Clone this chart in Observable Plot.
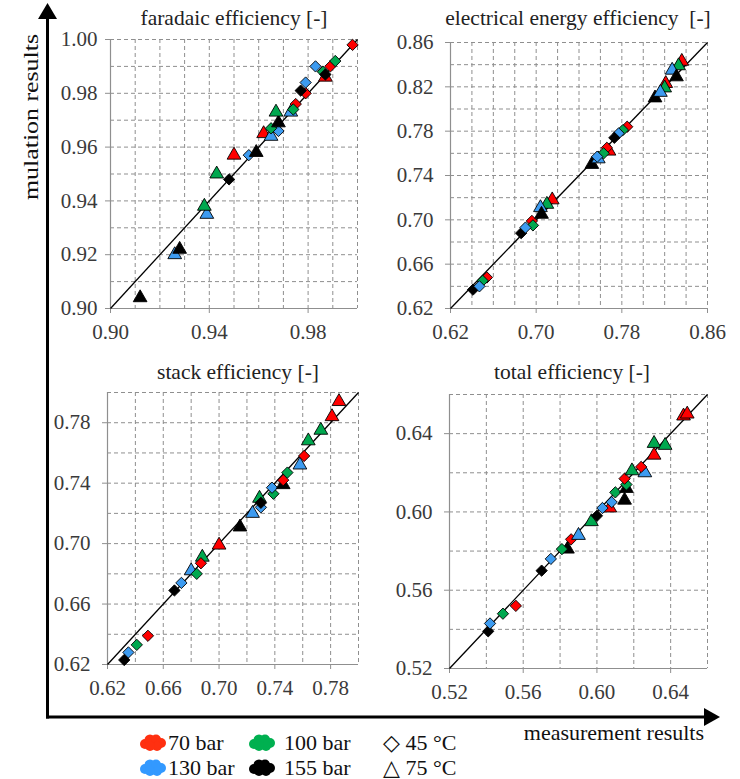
<!DOCTYPE html>
<html>
<head>
<meta charset="utf-8">
<script src="https://cdn.jsdelivr.net/npm/d3@7"></script>
<script src="https://cdn.jsdelivr.net/npm/@observablehq/plot@0.6"></script>
<style>
  html, body { margin: 0; padding: 0; background: #fff; }
  #wrap { position: relative; width: 740px; height: 779px; overflow: hidden; background: #fff; }
  #wrap > svg { position: absolute; }
  .panel { position: absolute; }
  #wrap text { font-family: "Liberation Serif", "DejaVu Serif", "Tinos", serif !important; }
</style>
</head>
<body>
<div id="wrap"></div>
<script>
// ---------- data: [measured, simulated, pressure (bar), temperature (°C)] ----------
const pressureLevels = [70, 100, 130, 155];
const pressureLabels = ["70 bar", "100 bar", "130 bar", "155 bar"];
const pressureColors = ["#ff0000", "#00a84f", "#3d9bf0", "#000000"];
const legendColors = ["#ff3010", "#00b050", "#3399ff", "#000000"];
const temperatureLevels = [45, 75];
const temperatureLabels = ["◇ 45 °C", "△ 75 °C"];

const faradaic = [
  [0.912, 0.904, 155, 75], [0.926, 0.920, 130, 75], [0.928, 0.922, 155, 75],
  [0.939, 0.935, 130, 75], [0.938, 0.938, 100, 75], [0.943, 0.950, 100, 75],
  [0.948, 0.948, 155, 45], [0.950, 0.957, 70, 75], [0.956, 0.957, 130, 45],
  [0.959, 0.958, 155, 75], [0.962, 0.965, 70, 75], [0.965, 0.964, 130, 75],
  [0.968, 0.966, 130, 45], [0.965, 0.967, 100, 45], [0.968, 0.969, 155, 75],
  [0.967, 0.973, 100, 75], [0.973, 0.973, 130, 75], [0.975, 0.976, 70, 45],
  [0.974, 0.974, 100, 45], [0.979, 0.980, 70, 45], [0.977, 0.981, 155, 45],
  [0.979, 0.984, 130, 45], [0.987, 0.986, 70, 75], [0.986, 0.988, 100, 45],
  [0.987, 0.987, 155, 45], [0.983, 0.990, 130, 45], [0.989, 0.990, 70, 45],
  [0.991, 0.992, 100, 45], [0.998, 0.998, 70, 45]
];
const electrical = [
  [0.654, 0.648, 70, 45], [0.650, 0.645, 100, 45], [0.641, 0.637, 155, 45], [0.647, 0.640, 130, 45],
  [0.696, 0.699, 70, 45], [0.697, 0.695, 100, 45], [0.686, 0.688, 155, 45], [0.690, 0.693, 130, 45],
  [0.715, 0.718, 70, 75], [0.710, 0.714, 100, 75], [0.704, 0.711, 130, 75], [0.705, 0.705, 155, 75],
  [0.752, 0.750, 155, 75], [0.758, 0.755, 130, 75], [0.768, 0.762, 70, 75], [0.766, 0.765, 70, 45],
  [0.763, 0.760, 100, 45], [0.757, 0.757, 130, 45],
  [0.785, 0.784, 70, 45], [0.781, 0.781, 100, 45], [0.777, 0.778, 130, 45], [0.773, 0.774, 155, 45],
  [0.811, 0.810, 155, 75], [0.821, 0.823, 70, 75], [0.820, 0.819, 100, 75], [0.816, 0.815, 130, 75],
  [0.836, 0.843, 70, 75], [0.833, 0.839, 100, 75], [0.827, 0.835, 130, 75], [0.831, 0.829, 155, 75]
];
const stack = [
  [0.632, 0.623, 155, 45], [0.635, 0.628, 130, 45], [0.641, 0.633, 100, 45], [0.649, 0.639, 70, 45],
  [0.668, 0.669, 155, 45], [0.673, 0.674, 130, 45], [0.680, 0.682, 130, 75], [0.688, 0.691, 100, 75],
  [0.684, 0.680, 100, 45], [0.687, 0.687, 70, 45], [0.700, 0.699, 70, 75], [0.715, 0.711, 155, 75],
  [0.724, 0.720, 130, 75], [0.729, 0.730, 100, 75], [0.730, 0.724, 130, 45], [0.730, 0.727, 155, 45],
  [0.739, 0.733, 100, 45], [0.738, 0.737, 130, 45], [0.746, 0.739, 155, 75], [0.746, 0.742, 70, 45],
  [0.749, 0.747, 100, 45], [0.758, 0.752, 130, 75], [0.761, 0.758, 70, 45], [0.764, 0.768, 100, 75],
  [0.773, 0.775, 100, 75], [0.781, 0.784, 70, 75], [0.786, 0.794, 70, 75]
];
const total = [
  [0.541, 0.539, 155, 45], [0.542, 0.543, 130, 45], [0.549, 0.548, 100, 45], [0.556, 0.552, 70, 45],
  [0.570, 0.570, 155, 45], [0.575, 0.576, 130, 45], [0.584, 0.581, 155, 75], [0.581, 0.581, 100, 45],
  [0.586, 0.586, 70, 45], [0.590, 0.588, 130, 75], [0.597, 0.595, 100, 75], [0.600, 0.598, 155, 45],
  [0.607, 0.602, 70, 75], [0.603, 0.602, 130, 45], [0.608, 0.605, 130, 45], [0.610, 0.610, 100, 45],
  [0.615, 0.606, 155, 75], [0.616, 0.612, 155, 75], [0.616, 0.614, 100, 45], [0.615, 0.617, 70, 45],
  [0.626, 0.620, 130, 75], [0.619, 0.621, 100, 75], [0.624, 0.623, 70, 45], [0.631, 0.629, 70, 75],
  [0.631, 0.635, 100, 75], [0.637, 0.634, 100, 75], [0.647, 0.649, 70, 75], [0.649, 0.650, 70, 75]
];

// ---------- axis tick labels and grid values ----------
const faradaicDomain = [0.90, 1.00];
const faradaicXTicks = [0.90, 0.94, 0.98];
const faradaicYTicks = [0.90, 0.92, 0.94, 0.96, 0.98, 1.00];
const faradaicGrid = d3.range(0, 11).map(i => +(0.90 + i * 0.01).toFixed(2));

const electricalDomain = [0.62, 0.86];
const electricalXTicks = [0.62, 0.70, 0.78, 0.86];
const electricalYTicks = [0.62, 0.66, 0.70, 0.74, 0.78, 0.82, 0.86];
const electricalGrid = d3.range(0, 13).map(i => +(0.62 + i * 0.02).toFixed(2));

const stackDomain = [0.62, 0.80];
const stackXTicks = [0.62, 0.66, 0.70, 0.74, 0.78];
const stackYTicks = [0.62, 0.66, 0.70, 0.74, 0.78];
const stackGrid = d3.range(0, 10).map(i => +(0.62 + i * 0.02).toFixed(2));

const totalDomain = [0.52, 0.66];
const totalXTicks = [0.52, 0.56, 0.60, 0.64];
const totalYTicks = [0.52, 0.56, 0.60, 0.64];
const totalGrid = d3.range(0, 8).map(i => +(0.52 + i * 0.02).toFixed(2));

const panelTitles = ["faradaic efficiency [-]", "electrical energy efficiency  [-]", "stack efficiency [-]", "total efficiency [-]"];
const xAxisTitle = "measurement results";
const yAxisTitle = "mulation results";

// ---------- drawing ----------
const FONT = "Liberation Serif, DejaVu Serif, Tinos, serif";
const GRID = "#8f8f8f";
const wrap = document.getElementById("wrap");

function panel(data, cfg) {
  const ml = 80, mr = 10, mt = 10, mb = 45;
  const fmt = d => d.toFixed(2);
  const chart = Plot.plot({
    width: cfg.w + ml + mr,
    height: cfg.h + mt + mb,
    marginLeft: ml, marginRight: mr, marginTop: mt, marginBottom: mb,
    style: { fontFamily: FONT, fontSize: "21px", color: "#3a3a3a", background: "transparent", overflow: "visible" },
    x: { domain: cfg.domain },
    y: { domain: cfg.domain },
    color: { type: "ordinal", domain: pressureLevels, range: pressureColors },
    symbol: { domain: temperatureLevels, range: ["diamond2", "triangle"] },
    marks: [
      Plot.gridX(cfg.grid, { stroke: GRID, strokeOpacity: 1, strokeDasharray: "4,3", strokeWidth: 1 }),
      Plot.gridY(cfg.grid, { stroke: GRID, strokeOpacity: 1, strokeDasharray: "4,3", strokeWidth: 1 }),
      Plot.ruleX([cfg.domain[0]], { stroke: GRID, strokeWidth: 1.2 }),
      Plot.ruleY([cfg.domain[0]], { stroke: GRID, strokeWidth: 1.2 }),
      Plot.axisX(cfg.xTicks, { tickFormat: fmt, tickSize: 5, tickPadding: 11, stroke: GRID, fill: "#3a3a3a", fontSize: 21, label: null }),
      Plot.axisY(cfg.yTicks, { tickFormat: fmt, tickSize: 5, tickPadding: cfg.padY, stroke: GRID, fill: "#3a3a3a", fontSize: 21, label: null }),
      Plot.link([cfg.domain], { x1: d => d[0], y1: d => d[0], x2: d => d[1], y2: d => d[1], stroke: "#000", strokeWidth: 1.3 }),
      Plot.dot(data, { x: d => d[0], y: d => d[1], fill: d => d[2], symbol: d => d[3], r: 5.1, stroke: "#000", strokeWidth: 0.9 })
    ]
  });
  chart.classList.add("panel");
  chart.style.left = (cfg.left - ml) + "px";
  chart.style.top = (cfg.top - mt) + "px";
  chart.style.maxWidth = "none";
  wrap.appendChild(chart);
}

panel(faradaic,   { left: 110, top: 39,  w: 247, h: 269, domain: faradaicDomain,   grid: faradaicGrid,   xTicks: faradaicXTicks,   yTicks: faradaicYTicks,   padY: 8 });
panel(electrical, { left: 450, top: 42,  w: 257, h: 266, domain: electricalDomain, grid: electricalGrid, xTicks: electricalXTicks, yTicks: electricalYTicks, padY: 12 });
panel(stack,      { left: 107, top: 392, w: 251, h: 272, domain: stackDomain,      grid: stackGrid,      xTicks: stackXTicks,      yTicks: stackYTicks,      padY: 12 });
panel(total,      { left: 449, top: 394, w: 258, h: 274, domain: totalDomain,      grid: totalGrid,      xTicks: totalXTicks,      yTicks: totalYTicks,      padY: 12 });

// overlay: titles, arrows, axis titles, legend
const svg = d3.select(wrap).append("svg")
  .attr("width", 740).attr("height", 779)
  .style("left", "0px").style("top", "0px")
  .attr("font-family", FONT).style("pointer-events", "none");

const titlePos = [[234, 25], [578, 25], [238, 379], [572, 379]];
panelTitles.forEach((t, i) => {
  svg.append("text").attr("x", titlePos[i][0]).attr("y", titlePos[i][1])
    .attr("text-anchor", "middle").attr("font-size", 21.5).attr("fill", "#222")
    .style("white-space", "pre").text(t);
});

// vertical arrow
svg.append("line").attr("x1", 47.5).attr("x2", 47.5).attr("y1", 718.5).attr("y2", 14).attr("stroke", "#000").attr("stroke-width", 3);
svg.append("path").attr("d", "M47.5,3 L38,19 L57,19 Z").attr("fill", "#000");
// horizontal arrow
svg.append("line").attr("x1", 46).attr("x2", 708).attr("y1", 717).attr("y2", 717).attr("stroke", "#000").attr("stroke-width", 3);
svg.append("path").attr("d", "M720,717 L704,708 L704,726 Z").attr("fill", "#000");

svg.append("text").attr("x", 704).attr("y", 740).attr("text-anchor", "end")
  .attr("font-size", 22).attr("fill", "#111").text(xAxisTitle);
svg.append("text").attr("transform", "translate(38,117) rotate(-90)")
  .attr("text-anchor", "middle").attr("font-size", 20)
  .attr("textLength", 166).attr("lengthAdjust", "spacingAndGlyphs")
  .attr("fill", "#111").text(yAxisTitle);

// legend
function blob(g, cx, cy, color) {
  const circles = [[-8, 1, 5], [-3, -3, 5.5], [3, -3.5, 5], [8, 0, 5], [4, 3, 5], [-3, 3, 5]];
  circles.forEach(([dx, dy, r]) => g.append("circle").attr("cx", cx + dx).attr("cy", cy + dy).attr("r", r).attr("fill", color));
}
const legendX = [[153, 168], [262, 284], [153, 168], [262, 284]];
const legendY = [743, 743, 768, 768];
pressureLabels.forEach((lab, i) => {
  blob(svg, legendX[i][0], legendY[i], legendColors[i]);
  svg.append("text").attr("x", legendX[i][1]).attr("y", legendY[i] + 7)
    .attr("font-size", 22).attr("fill", "#111").text(lab);
});
temperatureLabels.forEach((lab, i) => {
  svg.append("text").attr("x", 383).attr("y", [750, 775][i])
    .attr("font-size", 22).attr("fill", "#111").text(lab);
});
</script>
</body>
</html>
